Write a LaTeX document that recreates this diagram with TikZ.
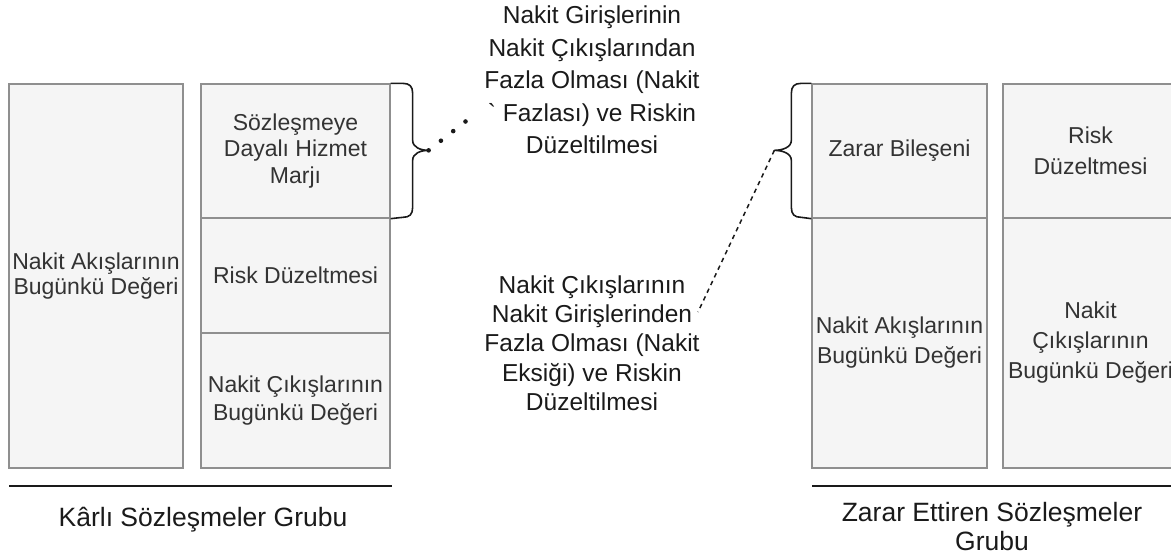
\documentclass[tikz,border=0pt]{standalone}
\usepackage{fontspec}
\setmainfont{Liberation Sans}
\usetikzlibrary{calc}
\definecolor{cellfill}{HTML}{F5F5F5}
\definecolor{cellline}{HTML}{8F8F8F}
\definecolor{celltext}{HTML}{333333}
\definecolor{ink}{HTML}{1A1A1A}
\tikzset{
  cell/.style={draw=cellline, fill=cellfill, line width=1.3pt, inner sep=0pt,
    align=center, text=celltext},
  cf/.style={font=\fontsize{23}{#1}\selectfont},
  bracel/.style={draw=ink, line width=1.6pt, line join=round},
  dotline/.style={draw=ink, line width=4.6pt, line cap=round, dash pattern=on 0pt off 15.6pt},
  dashline/.style={draw=ink, line width=1.5pt, dash pattern=on 4.5pt off 4pt},
  midtext/.style={inner sep=0pt, align=center, text=ink},
  grouprule/.style={draw=ink, line width=2pt},
}
\begin{document}
\begin{tikzpicture}[x=1pt,y=-1pt]
\useasboundingbox (0,0) rectangle (1171,557);
\clip (0,0) rectangle (1171,557);

% left group
\node[cell, cf=25.5, minimum width=174pt, minimum height=384pt] (pv1) at (96,276) {Nakit Akışlarının\\Bugünkü Değeri};
\node[cell, cf=26.5, minimum width=189pt, minimum height=134pt] (csm) at (295.5,151) {Sözleşmeye\\Dayalı Hizmet\\Marjı};
\node[cell, cf=26.5, minimum width=189pt, minimum height=115pt] (ra1) at (295.5,275.5) {Risk Düzeltmesi};
\node[cell, cf=28, minimum width=189pt, minimum height=135pt] (pvo1) at (295.5,400.5) {Nakit Çıkışlarının\\Bugünkü Değeri};

% right group
\node[cell, cf=30, minimum width=175pt, minimum height=134pt] (loss) at (899.5,151) {Zarar Bileşeni};
\node[cell, cf=30, minimum width=175pt, minimum height=250pt] (pv2) at (899.5,343) {Nakit Akışlarının\\Bugünkü Değeri};
\node[cell, cf=30.5, minimum width=175pt, minimum height=134pt] (ra2) at (1090.5,151) {Risk\\Düzeltmesi};
\node[cell, cf=30, minimum width=175pt, minimum height=250pt] (pvo2) at (1090.5,343) {Nakit\\Çıkışlarının\\Bugünkü Değeri};

% braces
\draw[bracel] (csm.north east) -- ++(12,0)
  .. controls +(7,0) and +(0,-7) .. ++(10,10) -- ++(0,47)
  .. controls +(0,7) and +(-8,0) .. ++(16,10) coordinate (lbt)
  .. controls +(-8,0) and +(0,-7) .. ++(-16,10) -- ++(0,47)
  .. controls +(0,7) and +(7,0) .. ++(-10,10) -- (csm.south east);
\draw[bracel] (loss.north west) -- ++(-10,0)
  .. controls +(-7,0) and +(0,-7) .. ++(-10,10) -- ++(0,47)
  .. controls +(0,7) and +(8,0) .. ++(-17,10) coordinate (rbt)
  .. controls +(8,0) and +(0,-7) .. ++(17,10) -- ++(0,47)
  .. controls +(0,7) and +(-7,0) .. ++(10,10) -- (loss.south west);

% middle texts
\node[midtext, font=\fontsize{24.5}{32.5}\selectfont] (top) at (592,80)
  {Nakit Girişlerinin\\Nakit Çıkışlarından\\Fazla Olması (Nakit\\\textasciigrave{} Fazlası) ve Riskin\\Düzeltilmesi};
\node[midtext, font=\fontsize{24.5}{29.3}\selectfont] (bot) at (592,343)
  {Nakit Çıkışlarının\\Nakit Girişlerinden\\Fazla Olması (Nakit\\Eksiği) ve Riskin\\Düzeltilmesi};

\coordinate (dotend) at (477,112.5);
\coordinate (dashend) at (698,312);
\draw[dotline] (lbt) -- (dotend);
\draw[dashline] (rbt) -- (dashend);

% group rules and labels
\draw[grouprule] (9,486) -- (392,486);
\draw[grouprule] (812,486) -- (1180,486);
\node[midtext, font=\fontsize{26.5}{29}\selectfont] (g1) at (203,520) {Kârlı Sözleşmeler Grubu};
\node[midtext, font=\fontsize{26.5}{29}\selectfont] (g2) at (992,527) {Zarar Ettiren Sözleşmeler\\Grubu};
\end{tikzpicture}
\end{document}
